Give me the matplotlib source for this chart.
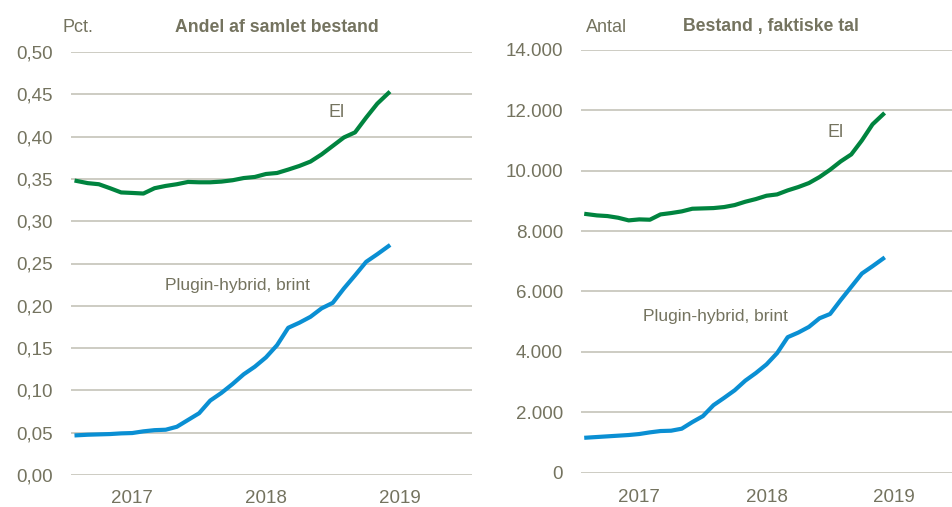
import numpy as np
import matplotlib
matplotlib.use('Agg')
from matplotlib import pyplot as plt

plt.rcParams['font.family'] = ['Liberation Sans', 'DejaVu Sans']

# monthly, aug 2016 - dec 2018
months = np.arange(29)
year_pos = [5, 17, 29]
year_labels = ['2017', '2018', '2019']

andel_el = [0.3476, 0.345, 0.3437, 0.339, 0.334, 0.3334, 0.3327, 0.339, 0.3417, 0.3437,
            0.3464, 0.346, 0.346, 0.3468, 0.3484, 0.351, 0.3523, 0.3558, 0.357, 0.361,
            0.3653, 0.3705, 0.379, 0.389, 0.399, 0.405, 0.4225, 0.439, 0.4515]
andel_hyb = [0.0469, 0.0476, 0.048, 0.0484, 0.0492, 0.0496, 0.0516, 0.053, 0.0535, 0.057,
             0.065, 0.073, 0.088, 0.097, 0.1075, 0.119, 0.128, 0.139, 0.1535, 0.174,
             0.180, 0.187, 0.197, 0.2035, 0.2205, 0.236, 0.252, 0.261, 0.2705]

antal_el = [8564, 8519, 8497, 8442, 8354, 8387, 8376, 8552, 8597, 8652,
            8740, 8751, 8762, 8796, 8862, 8972, 9061, 9171, 9215, 9348,
            9459, 9591, 9790, 10033, 10309, 10541, 11005, 11536, 11867]
antal_hyb = [1154, 1176, 1198, 1220, 1242, 1275, 1330, 1374, 1385, 1451,
             1670, 1868, 2231, 2473, 2725, 3044, 3297, 3582, 3956, 4484,
             4637, 4824, 5110, 5253, 5714, 6154, 6593, 6835, 7088]

green = '#00843f'
blue = '#0a8fd3'
txt = '#74735f'
grid = '#c9c8be'

fig = plt.figure(figsize=(9.52, 5.07), dpi=100)
W, H = 952, 507

def setup(ax, yticks, ylabels, xmax, xpad):
    ax.set_xlim(-0.5, xmax)
    ax.set_ylim(yticks[0], yticks[-1])
    ax.set_yticks(yticks)
    ax.set_yticklabels(ylabels)
    ax.set_xticks(year_pos)
    ax.set_xticklabels(year_labels)
    for s in ax.spines.values():
        s.set_visible(False)
    ax.grid(axis='y', color=grid, linewidth=1.3)
    ax.set_axisbelow(True)
    ax.tick_params(length=0, labelsize=13.5, colors=txt)
    ax.tick_params(axis='y', pad=13)
    ax.tick_params(axis='x', pad=xpad)

# left panel
ax1 = fig.add_axes([71/W, 1-475/H, 401/W, 423/H])
yt1 = np.arange(0, 0.501, 0.05)
setup(ax1, yt1, [('%.2f' % v).replace('.', ',') for v in yt1], 35.5, 10.5)
ax1.plot(months, andel_el, color=green, lw=3)
ax1.plot(months, andel_hyb, color=blue, lw=3)
ax1.text(23.3, 0.4287, 'El', color=txt, fontsize=13, ha='center', va='center')
ax1.text(14.4, 0.2244, 'Plugin-hybrid, brint', color=txt, fontsize=12.5, ha='center', va='center')
fig.text(62/W, 1-27/H, 'Pct.', color=txt, fontsize=13, va='center')
fig.text(277/W, 1-27/H, 'Andel af samlet bestand', color=txt, fontsize=12.7,
         fontweight='bold', ha='center', va='center')

# right panel
ax2 = fig.add_axes([581/W, 1-472.5/H, 371/W, 422.5/H])
yt2 = np.arange(0, 14001, 2000)
setup(ax2, yt2, ['{:,}'.format(v).replace(',', '.') for v in yt2], 34.5, 12)
ax2.plot(months, antal_el, color=green, lw=3)
ax2.plot(months, antal_hyb, color=blue, lw=3)
ax2.text(23.5, 11250, 'El', color=txt, fontsize=13, ha='center', va='center')
ax2.text(12.2, 5153, 'Plugin-hybrid, brint', color=txt, fontsize=12.5, ha='center', va='center')
fig.text(586/W, 1-27/H, 'Antal', color=txt, fontsize=13, va='center')
fig.text(771/W, 1-27/H, 'Bestand , faktiske tal', color=txt, fontsize=12.7,
         fontweight='bold', ha='center', va='center')

fig.savefig('out.png', dpi=100)
